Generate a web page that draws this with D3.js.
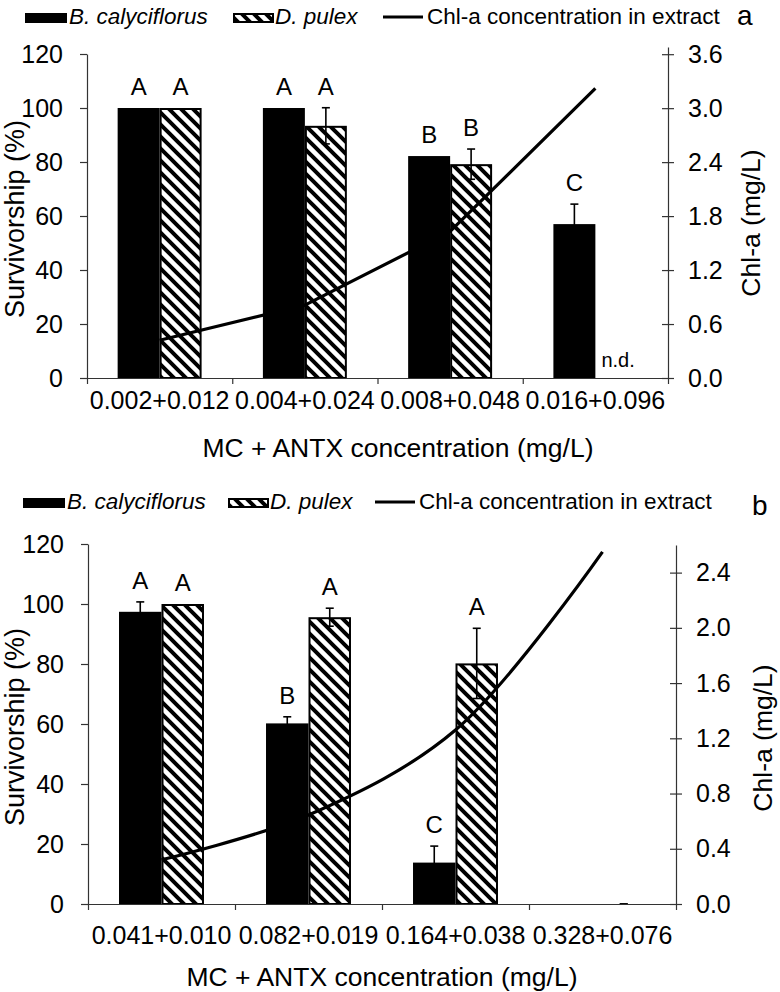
<!DOCTYPE html>
<html>
<head>
<meta charset="utf-8">
<script src="https://cdn.jsdelivr.net/npm/d3@7"></script>
<style>
  html, body { margin: 0; padding: 0; background: #fff; }
  svg { display: block; font-family: "Liberation Sans", Arial, sans-serif; }
</style>
</head>
<body>
<svg id="chart" width="780" height="992"></svg>
<script>
// ---------- DATA ----------
const seriesNames = ["B. calyciflorus", "D. pulex"];
const lineName = "Chl-a concentration in extract";

// Panel a
const categoriesA = ["0.002+0.012", "0.004+0.024", "0.008+0.048", "0.016+0.096"];
const calyA = [100, 100, 82.2, 57.0];
const calyErrA = [null, null, null, 7.4];
const pulexA = [100, 93.4, 79.2, null];
const pulexErrA = [null, 6.7, 5.6, null];
const chlA = [0.42, 0.81, 1.63, 3.22];
const lettersCalyA = ["A", "A", "B", "C"];
const lettersPulexA = ["A", "A", "B", ""];
const leftTicksA = [0, 20, 40, 60, 80, 100, 120];
const rightTicksA = [0, 0.6, 1.2, 1.8, 2.4, 3.0, 3.6];

// Panel b
const categoriesB = ["0.041+0.010", "0.082+0.019", "0.164+0.038", "0.328+0.076"];
const calyB = [97.4, 60.2, 13.8, 0];
const calyErrB = [3.3, 2.2, 5.5, null];
const pulexB = [100, 95.6, 80.2, 0];
const pulexErrB = [null, 3.0, 11.7, 0];
const chlB = [0.32, 0.645, 1.26, 2.55];
const lettersCalyB = ["A", "B", "C", ""];
const lettersPulexB = ["A", "A", "A", ""];
const leftTicksB = [0, 20, 40, 60, 80, 100, 120];
const rightTicksB = [0, 0.4, 0.8, 1.2, 1.6, 2.0, 2.4];

// ---------- DRAW ----------
const svg = d3.select("#chart");
const FONT = "Liberation Sans, Arial, sans-serif";

const defs = svg.append("defs");
const pat = defs.append("pattern")
  .attr("id", "hatch").attr("patternUnits", "userSpaceOnUse")
  .attr("width", 12).attr("height", 12);
pat.append("rect").attr("width", 12).attr("height", 12).attr("fill", "#fff");
pat.append("path")
  .attr("d", "M-6,6 L6,18 M0,0 L12,12 M6,-6 L18,6")
  .attr("stroke", "#000").attr("stroke-width", 4).attr("fill", "none");

function drawPanel(cfg) {
  const g = svg.append("g");
  const { left, right, top, bottom } = cfg;

  const x0 = d3.scaleBand().domain(cfg.categories).range([left, right]).paddingInner(0).paddingOuter(0);
  const x1 = d3.scaleBand().domain(seriesNames).range([0, x0.bandwidth()]).paddingInner(0).paddingOuter(0.73);
  const yL = d3.scaleLinear().domain([0, 120]).range([bottom, top]);
  const yR = d3.scaleLinear().domain([0, cfg.rightMax]).range([bottom, cfg.rightTop]);

  const rows = cfg.categories.map((c, i) => ([
    { cat: c, s: seriesNames[0], v: cfg.caly[i], e: cfg.calyErr[i], L: cfg.lettersCaly[i] },
    { cat: c, s: seriesNames[1], v: cfg.pulex[i], e: cfg.pulexErr[i], L: cfg.lettersPulex[i] }
  ])).flat();

  // bars
  rows.filter(d => d.v !== null && d.v > 0).forEach(d => {
    const bx = x0(d.cat) + x1(d.s);
    const w = x1.bandwidth();
    if (d.s === seriesNames[0]) {
      g.append("rect").attr("x", bx).attr("y", yL(d.v)).attr("width", w)
        .attr("height", yL(0) - yL(d.v)).attr("fill", "#000");
    } else {
      g.append("rect").attr("x", bx + 1).attr("y", yL(d.v) + 1).attr("width", w - 2)
        .attr("height", yL(0) - yL(d.v) - 1).attr("fill", "url(#hatch)")
        .attr("stroke", "#000").attr("stroke-width", 2);
    }
  });

  // error bars
  rows.filter(d => d.v !== null && d.e !== null).forEach(d => {
    const cx = x0(d.cat) + x1(d.s) + x1.bandwidth() / 2;
    const hi = yL(d.v + d.e), lo = yL(Math.max(0, d.v - d.e));
    g.append("line").attr("x1", cx).attr("x2", cx).attr("y1", hi).attr("y2", lo)
      .attr("stroke", "#000").attr("stroke-width", 1.6);
    [hi, lo].forEach(yy => g.append("line").attr("x1", cx - 4).attr("x2", cx + 4)
      .attr("y1", yy).attr("y2", yy).attr("stroke", "#000").attr("stroke-width", 1.6));
  });

  // letters
  rows.filter(d => d.L).forEach(d => {
    const cx = x0(d.cat) + x1(d.s) + x1.bandwidth() / 2;
    const topv = d.v + (d.e || 0);
    g.append("text").attr("x", cx).attr("y", yL(topv) - 13)
      .attr("text-anchor", "middle").attr("font-size", 24).text(d.L);
  });

  // n.d.
  if (cfg.nd !== null) {
    const c = cfg.categories[cfg.nd];
    g.append("text").attr("x", x0(c) + x1(seriesNames[1]) + 6).attr("y", yL(0) - 11)
      .attr("font-size", 20).text("n.d.");
  }

  // line
  const pts = cfg.categories.map((c, i) => [x0(c) + x0.bandwidth() / 2, yR(cfg.chl[i])]);
  g.append("path").attr("d", d3.line().curve(cfg.curve)(pts))
    .attr("fill", "none").attr("stroke", "#000").attr("stroke-width", 3.2)
    .attr("stroke-linejoin", "round");

  // left axis
  const axL = g.append("g").attr("transform", `translate(${left},0)`)
    .call(d3.axisLeft(yL).tickValues(cfg.leftTicks).tickSize(7).tickSizeOuter(0).tickPadding(17));
  axL.selectAll("text").attr("font-size", 25).attr("font-family", FONT).attr("fill", "#000");
  axL.selectAll("line,path").attr("stroke", "#333").attr("stroke-width", 1.2);

  // right axis
  const axR = g.append("g").attr("transform", `translate(${right},0)`)
    .call(d3.axisRight(yR).tickValues(cfg.rightTicks).tickFormat(d3.format(".1f"))
      .tickSize(6).tickSizeOuter(0).tickPadding(14));
  axR.selectAll(".tick line").attr("x1", -6);
  axR.selectAll("text").attr("font-size", 25).attr("font-family", FONT).attr("fill", "#000");
  axR.selectAll("line,path").attr("stroke", "#333").attr("stroke-width", 1.2);

  // bottom axis: boundary ticks
  const xb = d3.scaleLinear().domain([0, cfg.categories.length]).range([left, right]);
  const axB = g.append("g").attr("transform", `translate(0,${bottom})`)
    .call(d3.axisBottom(xb).ticks(cfg.categories.length).tickFormat("").tickSize(6).tickSizeOuter(0));
  axB.selectAll("line,path").attr("stroke", "#333").attr("stroke-width", 1.2);
  const axC = g.append("g").attr("transform", `translate(0,${bottom})`)
    .call(d3.axisBottom(x0).tickSize(0).tickPadding(cfg.tickPad));
  axC.select(".domain").remove();
  axC.selectAll("text").attr("font-size", 25).attr("font-family", FONT).attr("fill", "#000");

  // axis titles
  g.append("text").attr("x", cfg.xTitleX).attr("y", cfg.xTitleY).attr("text-anchor", "middle")
    .attr("font-size", 26.5).text("MC + ANTX concentration (mg/L)");
  g.append("text").attr("transform", `translate(${cfg.yTitleX},${cfg.yTitleY}) rotate(-90)`)
    .attr("text-anchor", "middle").attr("dominant-baseline", "central")
    .attr("font-size", 27).text("Survivorship (%)");
  g.append("text").attr("transform", `translate(${cfg.rTitleX},${cfg.rTitleY}) rotate(-90)`)
    .attr("text-anchor", "middle").attr("dominant-baseline", "central")
    .attr("font-size", 26.5).text("Chl-a (mg/L)");

  // legend
  const ly = cfg.legendY;
  g.append("rect").attr("x", cfg.legX[0]).attr("y", ly - 11).attr("width", 42).attr("height", 10).attr("fill", "#000");
  g.append("text").attr("x", cfg.legX[0] + 44).attr("y", ly).attr("font-size", 22.5)
    .attr("font-style", "italic").text(seriesNames[0]);
  g.append("rect").attr("x", cfg.legX[1] + 1).attr("y", ly - 10).attr("width", 39).attr("height", 8)
    .attr("fill", "url(#hatch)").attr("stroke", "#000").attr("stroke-width", 2);
  g.append("text").attr("x", cfg.legX[1] + 42).attr("y", ly).attr("font-size", 22.5)
    .attr("font-style", "italic").text(seriesNames[1]);
  g.append("line").attr("x1", cfg.legX[2]).attr("x2", cfg.legX[2] + 40).attr("y1", ly - 7).attr("y2", ly - 7)
    .attr("stroke", "#000").attr("stroke-width", 3.2);
  g.append("text").attr("x", cfg.legX[2] + 44).attr("y", ly).attr("font-size", 22.5).text(lineName);

  g.append("text").attr("x", cfg.tagX).attr("y", cfg.tagY).attr("font-size", 28).text(cfg.tag);
}

drawPanel({
  categories: categoriesA, caly: calyA, calyErr: calyErrA, pulex: pulexA, pulexErr: pulexErrA,
  chl: chlA, lettersCaly: lettersCalyA, lettersPulex: lettersPulexA,
  leftTicks: leftTicksA, rightTicks: rightTicksA, rightMax: 3.68, nd: 3,
  left: 87, right: 668, top: 54, bottom: 378, rightTop: 47,
  curve: d3.curveLinear, tickPad: 13,
  xTitleX: 398, xTitleY: 457, yTitleX: 15, yTitleY: 219, rTitleX: 751, rTitleY: 223,
  legendY: 24, legX: [25, 233, 383], tag: "a", tagX: 737, tagY: 25
});

drawPanel({
  categories: categoriesB, caly: calyB, calyErr: calyErrB, pulex: pulexB, pulexErr: pulexErrB,
  chl: chlB, lettersCaly: lettersCalyB, lettersPulex: lettersPulexB,
  leftTicks: leftTicksB, rightTicks: rightTicksB, rightMax: 2.6, nd: null,
  left: 88, right: 676, top: 544, bottom: 904, rightTop: 545,
  curve: d3.curveCatmullRom.alpha(0.5), tickPad: 22,
  xTitleX: 382, xTitleY: 986, yTitleX: 15, yTitleY: 727, rTitleX: 763, rTitleY: 738,
  legendY: 509, legX: [23, 228, 375], tag: "b", tagX: 752, tagY: 515
});
</script>
</body>
</html>
